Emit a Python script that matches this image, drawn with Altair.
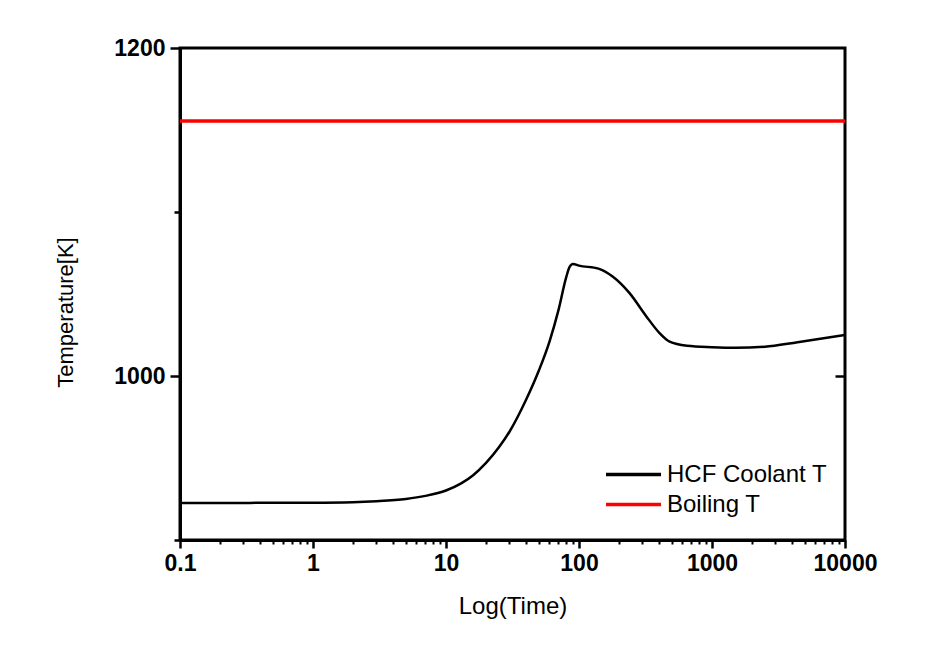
import altair as alt
import pandas as pd

# HCF coolant temperature vs time
times = [0.1, 1.0, 2.0, 3.0, 5.0, 7.0, 10.0, 13.0, 16.0, 20.0, 25.0, 30.0,
         40.0, 50.0, 60.0, 70.0, 80.0, 85.0, 90.0, 100.0, 140.0, 180.0, 240.0,
         320.0, 400.0, 480.0, 650.0, 1000.0, 1500.0, 2500.0, 4400.0, 10000.0]
temps = [922.6, 922.7, 923.0, 923.6, 925.0, 926.9, 930.2, 934.5, 939.5, 947.0,
         956.5, 966.0, 985.5, 1003.5, 1021.0, 1040.0, 1060.0, 1066.5, 1068.3,
         1067.3, 1065.5, 1060.5, 1050.5, 1036.5, 1026.5, 1021.0, 1018.5, 1017.6,
         1017.2, 1017.8, 1020.6, 1025.0]
boiling_temp = [1155.5]

series_names = ["HCF Coolant T", "Boiling T"]
series_colors = ["black", "red"]

x_major = [0.1, 1, 10, 100, 1000, 10000]
x_minor = [m * d for d in [0.1, 1, 10, 100, 1000] for m in range(2, 10)]
y_major = [1000, 1200]
y_minor = [900, 1100]

hcf = pd.DataFrame({"time": times, "temp": temps, "series": series_names[0]})
boil = pd.DataFrame({"temp": boiling_temp, "series": series_names[1]})

FONT = "Liberation Sans"

xscale = alt.Scale(type="log", domain=[0.1, 10000], nice=False)
yscale = alt.Scale(domain=[900, 1200], nice=False, zero=False)
cscale = alt.Scale(domain=series_names, range=series_colors)

legend = alt.Legend(
    title=None, orient="none", legendX=438, legendY=411,
    symbolType="M-2,0H2", symbolSize=756, symbolStrokeWidth=3.5,
    labelFontSize=24, labelFont=FONT, labelOffset=18, rowPadding=2,
    labelLimit=0, padding=0, labelColor="black",
)

main_line = alt.Chart(hcf).mark_line(strokeWidth=2.5, interpolate="monotone").encode(
    x=alt.X("time:Q", scale=xscale,
            axis=alt.Axis(orient="bottom", values=x_major, format="~g", title="Log(Time)",
                          tickSize=8, tickWidth=2.5, labelFontSize=23, labelFontWeight="bold",
                          labelPadding=4, titleFontSize=24, titleFontWeight="normal",
                          titlePadding=19, grid=False, domainWidth=3,
                          labelFlush=False)),
    y=alt.Y("temp:Q", scale=yscale,
            axis=alt.Axis(orient="left", values=y_major, format="d", title="Temperature[K]",
                          tickSize=10, tickWidth=2.5, labelFontSize=23, labelFontWeight="bold",
                          labelPadding=5, titleFontSize=22, titleFontWeight="normal",
                          titlePadding=36, titleY=264, grid=False, domainWidth=3,
                          labelFlush=False)),
    color=alt.Color("series:N", scale=cscale, legend=legend),
)

minor_line = alt.Chart(hcf).mark_line(opacity=0).encode(
    x=alt.X("time:Q", scale=xscale,
            axis=alt.Axis(orient="bottom", values=x_minor, labels=False, title=None,
                          tickSize=4, tickWidth=2, domain=False, grid=False)),
    y=alt.Y("temp:Q", scale=yscale,
            axis=alt.Axis(orient="left", values=y_minor, labels=False, title=None,
                          tickSize=6, tickWidth=2.5, domain=False, grid=False)),
)

right_ticks = alt.Chart(hcf).mark_line(opacity=0).encode(
    x=alt.X("time:Q", scale=xscale, axis=None),
    y=alt.Y("temp:Q", scale=yscale,
            axis=alt.Axis(orient="left", offset=-665, values=[1000], labels=False,
                          title=None, tickSize=10, tickWidth=2.5, domain=False,
                          grid=False)),
)

boil_rule = alt.Chart(boil).mark_rule(strokeWidth=3.5).encode(
    y=alt.Y("temp:Q", scale=yscale, axis=None),
    color=alt.Color("series:N", scale=cscale, legend=legend),
)

chart = alt.layer(main_line, minor_line, right_ticks, boil_rule).resolve_axis(
    x="independent", y="independent"
).properties(
    width=665, height=492,
    autosize=alt.AutoSizeParams(type="none"),
    padding={"left": 180, "top": 48, "right": 103, "bottom": 118},
    background="white",
).configure_view(
    stroke="black", strokeWidth=3
).configure_axis(
    domainColor="black", tickColor="black", labelColor="black", titleColor="black",
    labelFont=FONT, titleFont=FONT,
).configure_legend(
    symbolStrokeWidth=3.5,
)

chart.save("out.html", embed_options={"renderer": "svg", "actions": False})
